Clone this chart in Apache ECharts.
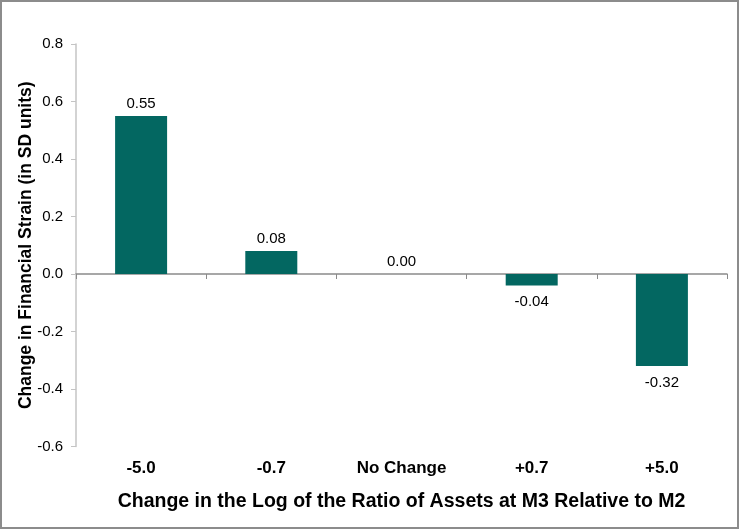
<!DOCTYPE html>
<html>
<head>
<meta charset="utf-8">
<script src="https://cdn.jsdelivr.net/npm/echarts@6/dist/echarts.min.js"></script>
<style>
html,body{margin:0;padding:0;background:#fff;}
#c{width:740px;height:529px;}
</style>
</head>
<body>
<div id="c"></div>
<script>
var categories = ['-5.0', '-0.7', 'No Change', '+0.7', '+5.0'];
var values = [0.55, 0.08, 0.00, -0.04, -0.32];
var yTicks = { min: -0.6, max: 0.8, interval: 0.2 };

var chart = echarts.init(document.getElementById('c'));
var font = '"Liberation Sans", Arial, Helvetica, sans-serif';
chart.setOption({
  animation: false,
  backgroundColor: '#fff',
  textStyle: { fontFamily: font },
  graphic: [{
    type: 'rect', silent: true, z: 100,
    shape: { x: 1, y: 1, width: 737, height: 527 },
    style: { fill: 'none', stroke: '#8c8c8c', lineWidth: 2 }
  }],
  grid: { left: 76, right: 13, top: 44, bottom: 82.5 },
  xAxis: [{
    type: 'category', data: categories, position: 'bottom',
    axisLine: { show: false, onZero: false },
    axisTick: { show: false },
    axisLabel: { color: '#000', fontSize: 17, fontWeight: 'bold', fontFamily: font, margin: 13 },
    name: 'Change in the Log of the Ratio of Assets at M3 Relative to M2',
    nameLocation: 'middle', nameGap: 45, nameMoveOverlap: false,
    nameTextStyle: { color: '#000', fontSize: 19.5, fontWeight: 'bold', fontFamily: font }
  }, {
    type: 'category', data: categories, position: 'top',
    axisLine: { show: true, onZero: true, lineStyle: { color: '#8a8a8a', width: 1.5 } },
    axisTick: { show: true, inside: true, length: 5, lineStyle: { color: '#8a8a8a' } },
    axisLabel: { show: false }
  }],
  yAxis: {
    type: 'value', min: yTicks.min, max: yTicks.max, interval: yTicks.interval,
    splitLine: { show: false },
    axisLine: { show: true, lineStyle: { color: '#c4c4c4', width: 1.5 } },
    axisTick: { show: true, length: 5, lineStyle: { color: '#c4c4c4' } },
    axisLabel: { color: '#000', fontSize: 15, fontFamily: font, margin: 13,
      formatter: function (v) { return v.toFixed(1); } },
    name: 'Change in Financial Strain (in SD units)',
    nameLocation: 'middle', nameGap: 41, nameRotate: 90, nameMoveOverlap: false,
    nameTextStyle: { color: '#000', fontSize: 17.5, fontWeight: 'bold', fontFamily: font }
  },
  series: [{
    type: 'bar', xAxisIndex: 0, barWidth: 52,
    itemStyle: { color: '#036761' },
    data: values.map(function (v) {
      return { value: v, label: { position: v < 0 ? 'bottom' : 'top', distance: v < 0 ? 9 : 5 } };
    }),
    label: { show: true, color: '#000', fontSize: 15, fontFamily: font,
      formatter: function (p) { return p.value.toFixed(2); } }
  }]
});
</script>
</body>
</html>
